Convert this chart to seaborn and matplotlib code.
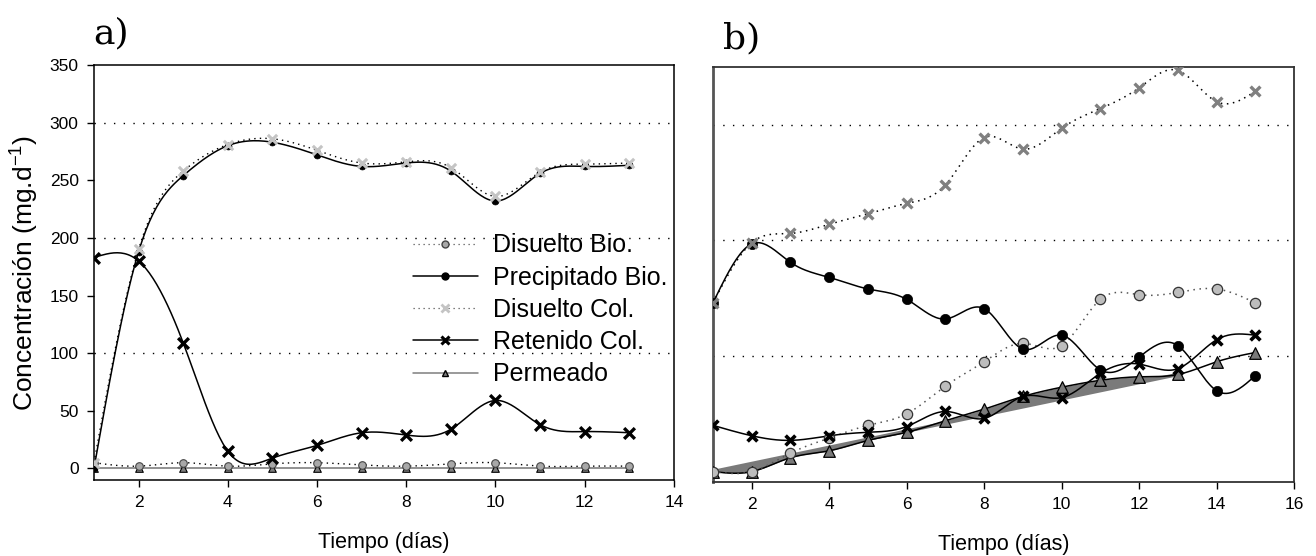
import numpy as np
import pandas as pd
import matplotlib
matplotlib.use("Agg")
import matplotlib.pyplot as plt
import seaborn as sns
from matplotlib.lines import Line2D

# -------------------------
# Data (mg/d per day)
# -------------------------
days_a = [1, 2, 3, 4, 5, 6, 7, 8, 9, 10, 11, 12, 13]
a_disuelto_bio = [5, 2, 5, 2, 4, 5, 3, 2, 4, 5, 2, 2, 2]
a_precipitado_bio = [0, 188, 254, 280, 283, 272, 262, 265, 258, 232, 256, 262, 263]
a_disuelto_col = [5, 190, 258, 281, 286, 276, 265, 266, 261, 236, 257, 264, 265]
a_retenido_col = [183, 180, 109, 15, 9, 20, 31, 29, 34, 59, 38, 32, 31]
a_permeado = [0, 0, 0, 0, 0, 0, 0, 0, 0, 0, 0, 0, 0]

days_b = [1, 2, 3, 4, 5, 6, 7, 8, 9, 10, 11, 12, 13, 14, 15]
b_disuelto_bio = [0, 0, 16, 29, 40, 50, 74, 95, 111, 109, 149, 153, 155, 158, 146]
b_precipitado_bio = [146, 197, 181, 168, 158, 149, 132, 141, 106, 118, 88, 99, 109, 70, 83]
b_disuelto_col = [146, 198, 206, 214, 223, 232, 248, 289, 279, 297, 314, 332, 347, 320, 329]
b_retenido_col = [40, 31, 27, 31, 34, 39, 52, 46, 65, 64, 85, 93, 89, 114, 118]
b_permeado = [0, 0, 12, 18, 27, 34, 44, 54, 65, 73, 79, 82, 84, 95, 103]
# grey band under Permeado (straight trend, day 1 to 13)
band_x = [1, 13]
band_y = [0, 84]

labels = ["Disuelto Bio.", "Precipitado Bio.", "Disuelto Col.", "Retenido Col.", "Permeado"]


def smooth(x, y, n=300):
    # natural cubic spline through the points (for drawing only)
    x = np.asarray(x, float)
    y = np.asarray(y, float)
    k = len(x)
    h = np.diff(x)
    A = np.zeros((k, k))
    r = np.zeros(k)
    A[0, 0] = A[-1, -1] = 1
    for i in range(1, k - 1):
        A[i, i - 1] = h[i - 1]
        A[i, i] = 2 * (h[i - 1] + h[i])
        A[i, i + 1] = h[i]
        r[i] = 3 * ((y[i + 1] - y[i]) / h[i] - (y[i] - y[i - 1]) / h[i - 1])
    c = np.linalg.solve(A, r)
    b = (y[1:] - y[:-1]) / h - h * (2 * c[:-1] + c[1:]) / 3
    d = (c[1:] - c[:-1]) / (3 * h)
    xs = np.linspace(x[0], x[-1], n)
    idx = np.clip(np.searchsorted(x, xs, side="right") - 1, 0, k - 2)
    t = xs - x[idx]
    ys = y[idx] + b[idx] * t + c[idx] * t ** 2 + d[idx] * t ** 3
    return pd.DataFrame({"x": xs, "y": ys})


def draw(ax, x, y, ls, lc, lw, marker, mfc, mec, s, mlw):
    sm = smooth(x, y)
    sns.lineplot(data=sm, x="x", y="y", ax=ax, color=lc, linewidth=lw,
                 linestyle=ls, sort=False, estimator=None, zorder=3)
    if marker == "x":
        sns.scatterplot(x=x, y=y, ax=ax, marker=marker, color=mfc, s=s,
                        linewidth=mlw, zorder=4)
    else:
        sns.scatterplot(x=x, y=y, ax=ax, marker=marker, color=mfc, edgecolor=mec,
                        s=s, linewidth=mlw, zorder=4)


sns.set_style("ticks")
plt.rcParams["font.family"] = ["Liberation Sans", "DejaVu Sans"]
plt.rcParams["mathtext.fontset"] = "custom"
plt.rcParams["mathtext.rm"] = "Liberation Sans"
plt.rcParams["mathtext.it"] = "Liberation Sans"
plt.rcParams["text.color"] = "black"
plt.rcParams["axes.labelcolor"] = "black"
plt.rcParams["xtick.color"] = "black"
plt.rcParams["ytick.color"] = "black"

DOT = (0, (1, 3))
GRID = (0, (1, 6))

fig = plt.figure(figsize=(13.16, 5.56), dpi=100)
ax1 = fig.add_axes([0.0714, 0.1367, 0.4407, 0.7464])
ax2 = fig.add_axes([0.5418, 0.1331, 0.4415, 0.7464])

# -------------------------
# Panel a
# -------------------------
for g in [100, 200, 300]:
    ax1.axhline(g, color="black", linestyle=GRID, linewidth=1, zorder=1)

draw(ax1, days_a, a_permeado, "-", "#7f7f7f", 1.2, "^", "#7f7f7f", "black", 30, 0.8)
draw(ax1, days_a, a_disuelto_bio, DOT, "black", 1, "o", "#a8a8a8", "#444444", 30, 0.8)
draw(ax1, days_a, a_precipitado_bio, "-", "black", 1.1, "o", "black", "black", 25, 0.5)
draw(ax1, days_a, a_disuelto_col, DOT, "black", 1, "x", "#c4c4c4", None, 45, 2.2)
draw(ax1, days_a, a_retenido_col, "-", "black", 1.1, "x", "black", None, 60, 2.4)

ax1.set_xlim(1, 14)
ax1.set_ylim(-10, 350)
ax1.set_xticks([2, 4, 6, 8, 10, 12, 14])
ax1.set_yticks([0, 50, 100, 150, 200, 250, 300, 350])
ax1.tick_params(labelsize=12.5, length=5, width=1, color="black", pad=6)
ax1.set_xlabel("Tiempo (días)", fontsize=15.5, labelpad=16)
ax1.set_ylabel("Concentración (mg.d$^{-1}$)", fontsize=19, labelpad=6)
for sp in ax1.spines.values():
    sp.set_color("black")
    sp.set_linewidth(1.1)

handles = [
    Line2D([], [], color="#555555", linestyle=DOT, linewidth=0.9, marker="o",
           markerfacecolor="#a8a8a8", markeredgecolor="#444444", markersize=5),
    Line2D([], [], color="black", linestyle="-", linewidth=1.1, marker="o",
           markerfacecolor="black", markeredgecolor="black", markersize=5),
    Line2D([], [], color="#555555", linestyle=DOT, linewidth=0.9, marker="x",
           markeredgecolor="#c4c4c4", markersize=6, markeredgewidth=2),
    Line2D([], [], color="black", linestyle="-", linewidth=1.1, marker="x",
           markeredgecolor="black", markersize=6, markeredgewidth=2.2),
    Line2D([], [], color="#7f7f7f", linestyle="-", linewidth=1.1, marker="^",
           markerfacecolor="#7f7f7f", markeredgecolor="black", markersize=5),
]
ax1.legend(handles, labels, loc="center left", bbox_to_anchor=(0.55, 0.41),
           frameon=False, fontsize=18, handlelength=2.6, handletextpad=0.6,
           labelspacing=0.33, borderpad=0, borderaxespad=0)

fig.text(0.0707, 0.922, "a)", fontsize=26, family="DejaVu Serif", va="baseline")

# -------------------------
# Panel b
# -------------------------
for g in [100, 200, 300]:
    ax2.axhline(g, color="black", linestyle=GRID, linewidth=1, zorder=1)

perm = smooth(days_b, b_permeado)
trend = np.interp(perm["x"], band_x, band_y)
mask = perm["x"] <= band_x[-1]
ax2.fill_between(perm["x"][mask], perm["y"][mask], trend[mask], color="#7a7a7a",
                 linewidth=0, zorder=2)
sns.lineplot(x=band_x, y=band_y, ax=ax2, color="#7a7a7a", linewidth=2.5, zorder=2)

draw(ax2, days_b, b_permeado, "-", "black", 1.1, "^", "#7a7a7a", "black", 70, 0.9)
draw(ax2, days_b, b_disuelto_bio, DOT, "#555555", 1.1, "o", "#bdbdbd", "#333333", 55, 0.9)
draw(ax2, days_b, b_precipitado_bio, "-", "black", 1.1, "o", "black", "black", 55, 0.5)
draw(ax2, days_b, b_disuelto_col, DOT, "black", 1.1, "x", "#808080", None, 50, 2.4)
draw(ax2, days_b, b_retenido_col, "-", "black", 1.1, "x", "black", None, 50, 2.6)

ax2.set_xlim(1, 16)
ax2.set_ylim(-9, 350)
ax2.set_xticks([2, 4, 6, 8, 10, 12, 14, 16])
ax2.set_yticks([])
ax2.tick_params(labelsize=12.5, length=5, width=1, color="black", pad=6)
ax2.set_xlabel("Tiempo (días)", fontsize=15.5, labelpad=16)
ax2.set_ylabel("")
for name, sp in ax2.spines.items():
    sp.set_color("#555555" if name == "left" else "#333333")
    sp.set_linewidth(2 if name == "left" else 1.3)

fig.text(0.5495, 0.912, "b)", fontsize=26, family="DejaVu Serif", va="baseline")

fig.savefig("out.png", dpi=100)
